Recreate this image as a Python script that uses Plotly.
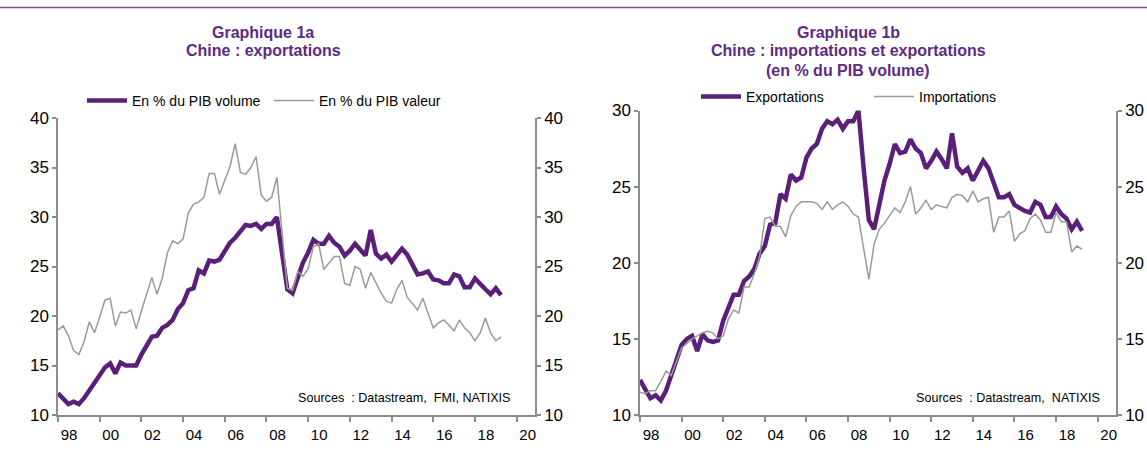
import plotly.graph_objects as go

# quarterly observations, 1998Q1 .. 2019Q2
quarters = [1998 + q / 4 for q in range(86)]

# Graphique 1a : exports in % of GDP
vol_a = [12.2, 11.7, 11.1, 11.35, 11.1, 11.7, 12.5, 13.4, 14.2, 14.8, 15.2, 14.2, 15.3, 15.0, 15.0, 15.0,
         16.1, 17.1, 17.9, 18.0, 18.8, 19.1, 19.6, 20.7, 21.3, 22.6, 22.8, 24.6, 24.3, 25.6, 25.5,
         25.7, 26.6, 27.4, 27.9, 28.6, 29.2, 29.1, 29.3, 28.8, 29.3, 29.3, 30.0, 26.3, 22.7, 22.3,
         23.8, 25.4, 26.4, 27.7, 27.3, 27.3, 28.1, 27.4, 27.0, 26.1, 26.6, 27.3, 26.7, 26.1,
         28.7, 26.3, 25.8, 26.2, 25.5, 26.1, 26.8, 26.2, 25.2, 24.2, 24.3, 24.5, 23.7, 23.6, 23.3,
         23.3, 24.2, 24.0, 22.9, 22.9, 23.8, 23.2, 22.7, 22.2, 22.8, 22.1]
val_a = [18.6, 19.0, 18.0, 16.5, 16.1, 17.4, 19.4, 18.3, 19.9, 21.6, 21.8, 19.0, 20.4, 20.3, 20.6, 18.7,
         20.5, 22.2, 23.9, 22.2, 23.8, 26.4, 27.6, 27.3, 27.8, 30.4, 31.3, 31.5, 32.0, 34.4, 34.4,
         32.3, 33.6, 35.1, 37.4, 34.5, 34.3, 35.0, 36.1, 32.2, 31.6, 32.0, 34.0, 28.2, 22.8, 22.6,
         24.5, 24.0, 24.8, 27.0, 27.3, 24.7, 25.3, 26.0, 26.0, 23.3, 23.1, 25.0, 24.7, 22.8,
         24.4, 23.3, 22.3, 21.5, 21.3, 22.7, 23.6, 21.9, 21.2, 20.6, 21.8, 20.2, 18.8, 19.3, 19.6,
         19.1, 18.5, 19.6, 18.8, 18.3, 17.5, 18.3, 19.8, 18.3, 17.5, 17.9]

# Graphique 1b : exports and imports in % of GDP (volume)
exp_b = [12.3, 11.7, 11.1, 11.3, 10.95, 11.6, 12.7, 13.6, 14.6, 15.0, 15.2, 14.2, 15.3, 14.9, 14.8, 14.9,
         16.2, 17.1, 17.9, 17.9, 18.8, 19.1, 19.6, 20.6, 21.1, 22.5, 22.6, 24.5, 24.2, 25.8, 25.4,
         25.6, 26.9, 27.5, 27.8, 28.8, 29.3, 29.1, 29.4, 28.8, 29.3, 29.3, 30.0, 26.2, 22.8, 22.2,
         23.8, 25.4, 26.5, 27.8, 27.2, 27.3, 28.1, 27.5, 27.2, 26.2, 26.7, 27.3, 26.8, 26.2,
         28.5, 26.3, 25.9, 26.2, 25.4, 26.1, 26.7, 26.2, 25.2, 24.3, 24.3, 24.5, 23.8, 23.6, 23.4,
         23.3, 24.0, 23.8, 23.0, 23.0, 23.7, 23.2, 22.9, 22.2, 22.7, 22.1]
imp_b = [11.5, 11.4, 11.6, 11.6, 12.2, 12.9, 12.6, 13.5, 14.4, 14.7, 15.0, 15.2, 15.4, 15.5, 15.4, 15.0,
         15.2, 16.3, 16.9, 16.7, 18.4, 18.4, 19.3, 20.4, 22.9, 23.0, 22.4, 22.4, 21.7, 23.1, 23.7,
         24.0, 24.0, 24.0, 23.9, 23.5, 24.0, 23.5, 23.8, 24.0, 23.7, 23.2, 23.0, 20.9, 18.9, 21.2,
         22.2, 22.6, 23.1, 23.6, 23.3, 24.0, 25.0, 23.2, 23.6, 24.1, 23.5, 23.8, 23.7, 23.6,
         24.3, 24.5, 24.4, 24.0, 24.7, 24.0, 24.2, 24.3, 22.0, 23.0, 23.0, 23.4, 21.4, 21.9, 22.1,
         22.9, 23.2, 22.8, 22.0, 22.0, 23.3, 22.7, 22.7, 20.7, 21.1, 20.9]

year_ticks = list(range(1998, 2021, 2))
year_labels = ["98", "00", "02", "04", "06", "08", "10", "12", "14", "16", "18", "20"]

PURPLE = "#5a1f78"
TITLE = "#5e2a84"
GREY = "#9a9a9a"
AXIS = "#8c8c8c"
FONT = "Liberation Sans, Arial, sans-serif"
W, H = 1147, 453


def px(x):
    return x / W


def py(y):
    return 1 - y / H


fig = go.Figure()
fig.add_trace(go.Scatter(x=quarters, y=vol_a, xaxis="x", yaxis="y", mode="lines",
                         name="En % du PIB volume", legend="legend",
                         line=dict(color=PURPLE, width=4.5)))
fig.add_trace(go.Scatter(x=quarters, y=val_a, xaxis="x", yaxis="y3", mode="lines",
                         name="En % du PIB valeur", legend="legend",
                         line=dict(color=GREY, width=1.5)))
fig.add_trace(go.Scatter(x=quarters, y=exp_b, xaxis="x2", yaxis="y2", mode="lines",
                         name="Exportations", legend="legend2",
                         line=dict(color=PURPLE, width=4.5)))
fig.add_trace(go.Scatter(x=quarters, y=imp_b, xaxis="x2", yaxis="y4", mode="lines",
                         name="Importations", legend="legend2",
                         line=dict(color=GREY, width=1.5)))

xcommon = dict(range=[1998, 2020.88], tickvals=year_ticks, ticktext=year_labels,
               ticks="outside", ticklen=5, tickcolor=AXIS, tickwidth=1.5,
               showline=True, linecolor=AXIS, linewidth=1.5, showgrid=False,
               zeroline=False, automargin=False, ticklabelshift=11,
               tickfont=dict(size=15, color="#000"))
ycommon = dict(ticks="outside", ticklen=4, tickcolor=AXIS, tickwidth=1.5,
               showline=True, linecolor=AXIS, linewidth=1.5, showgrid=False,
               zeroline=False, automargin=False, dtick=5,
               tickfont=dict(size=17, color="#000"))

dom1 = [px(58), px(535)]
dom2 = [px(640), px(1116)]

fig.update_layout(
    width=W, height=H, margin=dict(l=0, r=0, t=0, b=0, autoexpand=False),
    paper_bgcolor="white", plot_bgcolor="white",
    font=dict(family=FONT, color="#000"),
    xaxis=dict(domain=dom1, anchor="y", **xcommon),
    yaxis=dict(domain=[py(415), py(118)], anchor="x", range=[10, 40], **ycommon),
    yaxis3=dict(overlaying="y", side="right", anchor="x", range=[10, 40], **ycommon),
    xaxis2=dict(domain=dom2, anchor="y2", **xcommon),
    yaxis2=dict(domain=[py(415), py(110.5)], anchor="x2", range=[10, 30], **ycommon),
    yaxis4=dict(overlaying="y2", side="right", anchor="x2", range=[10, 30], **ycommon),
    legend=dict(orientation="h", x=px(82), y=py(101), xanchor="left", yanchor="middle",
                entrywidth=132, entrywidthmode="pixels", itemwidth=40,
                bgcolor="rgba(0,0,0,0)", font=dict(size=14, family=FONT)),
    legend2=dict(orientation="h", x=px(696), y=py(97), xanchor="left", yanchor="middle",
                 entrywidth=118, entrywidthmode="pixels", itemwidth=40,
                 bgcolor="rgba(0,0,0,0)", font=dict(size=14, family=FONT)),
)

titles = [
    (263, 32, "Graphique 1a"), (263, 50, "Chine : exportations"),
    (848, 32, "Graphique 1b"), (848, 50, "Chine : importations et exportations"),
    (848, 70, "(en % du PIB volume)"),
]
for x, y, t in titles:
    fig.add_annotation(x=px(x), y=py(y), xref="paper", yref="paper", text=f"<b>{t}</b>",
                       showarrow=False, xanchor="center", yanchor="middle",
                       font=dict(size=16, color=TITLE, family=FONT))

for x, t in [(513, "Sources  : Datastream,  FMI, NATIXIS"), (1102, "Sources  : Datastream,  NATIXIS")]:
    fig.add_annotation(x=px(x), y=py(398), xref="paper", yref="paper", text=t,
                       showarrow=False, xanchor="right", yanchor="middle",
                       font=dict(size=12.6, color="#000", family=FONT))

fig.add_shape(type="line", xref="paper", yref="paper", x0=0, x1=1, y0=py(7.5), y1=py(7.5),
              line=dict(color="#7d4f98", width=1.5))

fig.write_html("out.html", config={"displayModeBar": False},
               post_script="document.body.style.margin='0';")
